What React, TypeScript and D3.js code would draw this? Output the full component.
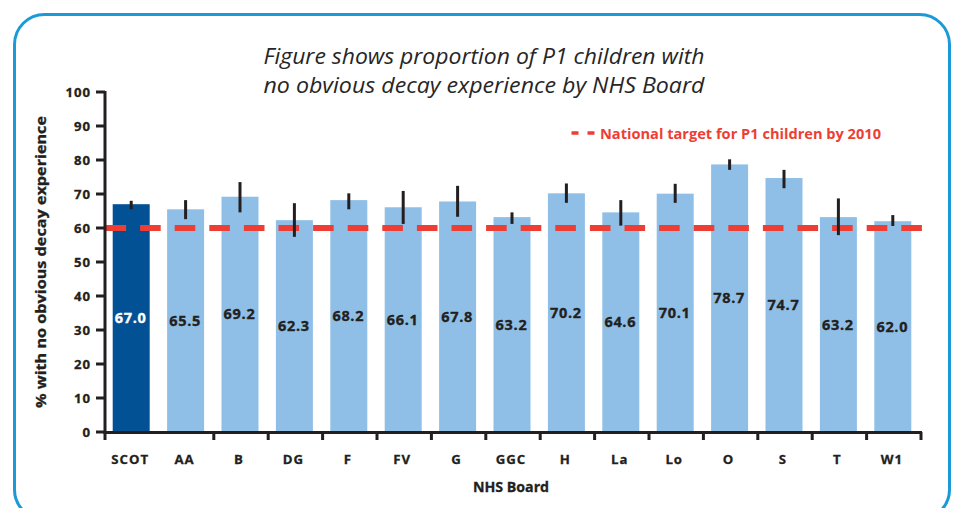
import React from "react";
import * as d3 from "d3";

const categories = ["SCOT", "AA", "B", "DG", "F", "FV", "G", "GGC", "H", "La", "Lo", "O", "S", "T", "W1"];
const values = [67.0, 65.5, 69.2, 62.3, 68.2, 66.1, 67.8, 63.2, 70.2, 64.6, 70.1, 78.7, 74.7, 63.2, 62.0];
const ciLow = [65.5, 62.6, 64.6, 57.4, 65.5, 61.2, 63.3, 61.2, 67.4, 60.7, 67.4, 77.1, 71.7, 57.9, 60.6];
const ciHigh = [68.0, 68.2, 73.5, 67.3, 70.2, 70.9, 72.4, 64.6, 73.1, 68.2, 73.0, 80.2, 77.1, 68.7, 63.8];
const yTicks = [0, 10, 20, 30, 40, 50, 60, 70, 80, 90, 100];
const target = 60;
const titleLines = ["Figure shows proportion of P1 children with", "no obvious decay experience by NHS Board"];
const legendLabel = "National target for P1 children by 2010";
const yLabel = "% with no obvious decay experience";
const xLabel = "NHS Board";

const FONT = "'Open Sans', sans-serif";
const DARK = "#231f20";
const RED = "#ee3e33";

export default function App() {
  const W = 957, H = 508;
  const x = d3.scaleBand<string>().domain(categories).range([104, 920]).padding(0);
  const y = d3.scaleLinear().domain([0, 100]).range([432, 92]);
  const bw = x.bandwidth() * 0.68;
  const cx = (c: string) => (x(c) as number) + x.bandwidth() / 2;
  const boundaries = d3.range(categories.length + 1).filter((i) => i !== 1);
  const tickX = (i: number) => 105 + i * x.bandwidth();

  return (
    <svg width={W} height={H} style={{ position: "absolute", left: 0, top: 0, background: "#fff" }}>
      <rect x={14.5} y={14.5} width={935} height={505} rx={30} fill="none" stroke="#1a9ad8" strokeWidth={3} />
      <g fontFamily={FONT} fontStyle="italic" fontSize={21} fill="#262626">
        {titleLines.map((t, i) => (
          <text key={i} x={263.5} y={63.5 + i * 29.5} textLength={441} lengthAdjust="spacingAndGlyphs">{t}</text>
        ))}
      </g>
      {categories.map((c, i) => (
        <rect key={c} x={cx(c) - bw / 2} y={y(values[i])} width={bw} height={y(0) - y(values[i])}
          fill={i === 0 ? "#035195" : "#8fbfe6"} />
      ))}
      <line x1={105.5} x2={922} y1={y(target)} y2={y(target)} stroke={RED} strokeWidth={6} strokeDasharray="20.6 14" />
      {categories.map((c, i) => (
        <line key={c} x1={cx(c)} x2={cx(c)} y1={y(ciHigh[i])} y2={y(ciLow[i])} stroke={DARK} strokeWidth={3} />
      ))}
      {categories.map((c, i) => (
        <text key={c} x={cx(c) - 0.5} y={y(values[i] / 2)} dy="0.35em" textAnchor="middle" fontFamily={FONT}
          fontWeight={700} fontSize={14.5} letterSpacing={0.7} fill={i === 0 ? "#fff" : DARK}
          stroke={i === 0 ? "#fff" : DARK} strokeWidth={0.35}>{values[i].toFixed(1)}</text>
      ))}
      <g stroke={DARK} strokeWidth={3}>
        <line x1={105} x2={105} y1={y(100) - 1} y2={y(0) + 1.5} />
        <line x1={103.5} x2={922} y1={y(0) + 0.5} y2={y(0) + 0.5} />
        {yTicks.map((t) => (
          <line key={t} x1={96} x2={105} y1={y(t)} y2={y(t)} />
        ))}
        {boundaries.map((i) => (
          <line key={i} x1={tickX(i)} x2={tickX(i)} y1={y(0)} y2={y(0) + 8} />
        ))}
      </g>
      <g fontFamily={FONT} fontWeight={700} fontSize={13.2} fill={DARK} letterSpacing={1} stroke={DARK} strokeWidth={0.3}>
        {yTicks.map((t) => (
          <text key={t} x={91} y={y(t)} dy="0.36em" textAnchor="end">{t}</text>
        ))}
        {categories.map((c) => (
          <text key={c} x={cx(c) - 1} y={463.5} textAnchor="middle">{c}</text>
        ))}
      </g>
      <text x={511} y={491.5} textAnchor="middle" fontFamily={FONT} fontWeight={700} fontSize={14.2} fill={DARK}
        stroke={DARK} strokeWidth={0.3}>{xLabel}</text>
      <text transform="translate(45.5,262) rotate(-90)" textAnchor="middle" fontFamily={FONT} fontWeight={700}
        fontSize={13.5} fill={DARK} stroke={DARK} strokeWidth={0.3} textLength={292} lengthAdjust="spacingAndGlyphs">{yLabel}</text>
      <g stroke={RED} strokeWidth={3.5}>
        <line x1={571.5} x2={578.5} y1={133} y2={133} />
        <line x1={587.5} x2={594.5} y1={133} y2={133} />
      </g>
      <text x={600} y={138.5} fontFamily={FONT} fontWeight={700} fontSize={13.5} fill={RED}
        textLength={281} lengthAdjust="spacingAndGlyphs">{legendLabel}</text>
    </svg>
  );
}
